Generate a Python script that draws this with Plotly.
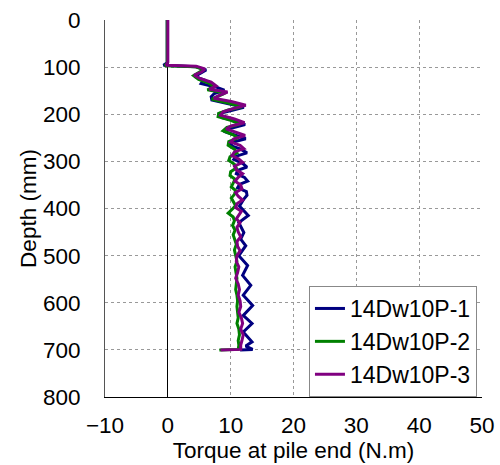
import plotly.graph_objects as go

# Depth (mm) and torque (N.m)
depth_p1 = [0, 91, 96, 99, 106, 113, 120, 127, 135, 142, 149, 156, 163, 170, 178, 185, 192, 199, 207, 215,
            222, 229, 236, 244, 252, 259, 266, 274, 282, 289, 296, 304, 312, 319, 326, 334, 342, 349, 356, 364,
            372, 380, 395, 415, 430, 451, 465, 479, 500, 521, 542, 563, 584, 606, 627, 644, 662, 683, 692, 699, 700]
torque_p1 = [-0.1, -0.1, -0.7, 4.4, 6.1, 5.2, 4.3, 5.7, 5.3, 7.6, 9.0, 7.4, 6.9, 7.0, 9.7, 12.1, 10.1, 8.0, 8.6, 11.1,
             12.3, 10.2, 8.9, 10.6, 12.4, 10.4, 9.9, 11.6, 12.6, 10.9, 10.5, 11.9, 12.6, 11.1, 10.9, 12.2, 12.7, 11.4, 11.1, 12.5,
             12.6, 12.1, 11.4, 12.8, 11.3, 12.1, 11.6, 12.4, 11.3, 12.7, 11.9, 13.2, 12.0, 13.5, 12.0, 13.4, 12.0, 13.4, 12.4, 13.5, 11.5]

depth_p2 = [0, 92, 97, 99, 105, 111, 118, 126, 134, 141, 148, 155, 162, 168, 176, 184, 191, 198, 205, 213,
            221, 228, 235, 243, 250, 258, 266, 274, 282, 290, 298, 306, 314, 322, 330, 338, 346, 354, 362, 370,
            378, 386, 394, 402, 410, 418, 426, 436, 446, 456, 466, 476, 488, 500, 512, 524, 536, 548, 560, 572,
            584, 596, 608, 620, 632, 644, 656, 668, 680, 690, 699, 700]
torque_p2 = [-0.1, -0.1, -0.5, 4.3, 5.7, 5.0, 4.1, 4.9, 6.5, 7.4, 6.3, 9.1, 7.8, 7.0, 9.6, 11.8, 9.6, 8.1, 8.0, 10.0,
             11.5, 9.4, 8.8, 10.3, 11.2, 9.7, 9.6, 10.6, 11.0, 9.9, 9.7, 10.6, 10.9, 10.0, 9.9, 10.7, 10.4, 10.1, 10.8, 10.6,
             10.1, 10.5, 10.8, 10.2, 9.6, 10.4, 10.6, 10.3, 10.7, 10.4, 10.6, 10.9, 10.6, 10.8, 11.0, 10.7, 10.8, 11.0, 10.9, 10.8,
             11.0, 11.1, 11.0, 11.1, 11.2, 11.0, 11.3, 11.4, 11.2, 11.3, 11.2, 8.2]

depth_p3 = [0, 90, 96, 98, 104, 110, 117, 124, 132, 140, 147, 153, 160, 166, 173, 181, 188, 195, 202, 210,
            218, 225, 231, 238, 245, 252, 259, 266, 273, 280, 288, 295, 302, 310, 318, 326, 334, 342, 350, 358,
            366, 374, 382, 390, 398, 406, 414, 422, 430, 440, 450, 460, 470, 480, 490, 500, 512, 524, 536, 548,
            560, 572, 584, 596, 608, 620, 632, 644, 656, 668, 680, 690, 699, 700]
torque_p3 = [0.0, 0.0, -0.3, 4.5, 5.9, 5.4, 4.2, 5.1, 6.9, 7.7, 6.6, 9.5, 8.2, 7.3, 10.1, 12.4, 10.4, 8.8, 8.4, 10.6,
             12.2, 10.1, 9.3, 11.0, 12.3, 10.5, 10.0, 11.5, 12.1, 10.6, 10.2, 11.3, 11.9, 10.6, 10.9, 11.9, 11.2, 10.7, 11.6, 11.8,
             10.8, 11.2, 11.9, 11.0, 10.8, 11.7, 11.3, 10.9, 11.5, 11.0, 11.2, 11.6, 11.0, 11.1, 11.5, 11.0, 10.9, 11.3, 11.1, 10.8,
             11.2, 11.4, 11.2, 11.5, 11.6, 11.3, 11.7, 11.9, 11.6, 12.0, 11.8, 11.6, 11.6, 8.4]

series_names = ["14Dw10P-1", "14Dw10P-2", "14Dw10P-3"]
series_colors = ["#000080", "#008000", "#800080"]

x_ticks = [-10, 0, 10, 20, 30, 40, 50]
y_ticks = [0, 100, 200, 300, 400, 500, 600, 700, 800]

FONT = "Liberation Sans"
FS = 22.5

fig = go.Figure()
for name, color, xs, ys in zip(series_names, series_colors,
                               [torque_p1, torque_p2, torque_p3],
                               [depth_p1, depth_p2, depth_p3]):
    fig.add_trace(go.Scatter(x=xs, y=ys, mode="lines", name=name,
                             line=dict(color=color, width=3)))

fig.update_layout(
    width=500, height=465,
    margin=dict(l=105, r=18, t=20, b=68, autoexpand=False),
    paper_bgcolor="white", plot_bgcolor="white",
    font=dict(family=FONT, size=FS, color="black"),
    showlegend=True,
    legend=dict(x=0.541, xanchor="left", y=0, yanchor="bottom",
                bgcolor="white", bordercolor="#888888", borderwidth=1,
                font=dict(family=FONT, size=23), tracegroupgap=0, itemwidth=30),
    xaxis=dict(range=[-10, 50], tickvals=x_ticks, showgrid=True,
               gridcolor="#999999", griddash="dot", gridwidth=1,
               zeroline=True, zerolinecolor="black", zerolinewidth=1.2,
               showline=True, linecolor="black", linewidth=1.2,
               ticks="", ticklabelstandoff=8, automargin=False,
               tickfont=dict(family=FONT, size=FS),
               title=dict(text="Torque at pile end (N.m)", standoff=5,
                          font=dict(family=FONT, size=FS))),
    yaxis=dict(range=[800, 0], tickvals=y_ticks, showgrid=True,
               gridcolor="#999999", griddash="dot", gridwidth=1,
               zeroline=False,
               showline=True, linecolor="#555555", linewidth=1,
               ticks="", ticklabelstandoff=19, automargin=False,
               tickfont=dict(family=FONT, size=FS),
               title=dict(text="Depth (mm)", standoff=0,
                          font=dict(family=FONT, size=FS))),
)

fig.write_html("out.html")
